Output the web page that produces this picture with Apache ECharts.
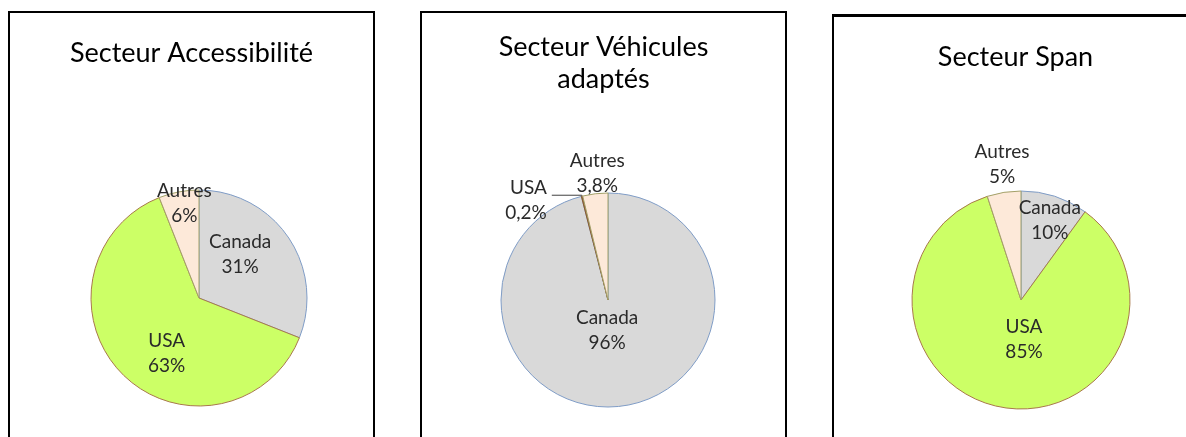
<!DOCTYPE html>
<html><head><meta charset="utf-8">
<script src="https://cdn.jsdelivr.net/npm/echarts@6/dist/echarts.min.js"></script>
<style>
html,body{margin:0;padding:0;background:#fff;width:1186px;height:437px;overflow:hidden}
.panel{position:absolute;box-sizing:border-box;width:367px;height:460px;border:2px solid #000;border-bottom:none;background:#fff}
.chart{position:absolute;left:0;top:0;width:363px;height:440px}
</style>
</head><body>
<div class="panel" style="left:8px;top:11px"><div class="chart" id="c1"></div></div>
<div class="panel" style="left:420px;top:11px"><div class="chart" id="c2"></div></div>
<div class="panel" style="left:832px;top:14px;border-top-width:3px"><div class="chart" id="c3"></div></div>
<script>
// ---- data ----
const categories = ['Canada', 'USA', 'Autres'];
const chartTitles = ['Secteur Accessibilité', 'Secteur Véhicules\nadaptés', 'Secteur Span'];
const accessibiliteValues = [31, 63, 6];
const vehiculesValues = [96, 0.2, 3.8];
const spanValues = [10, 85, 5];

// ---- styles ----
const FONT = 'Lato';
const fills = ['#d9d9d9', '#ccff66', '#fde9d9'];
const edges = ['#7f9cc6', '#a8784c', '#a2a068'];
const pieCenters = [[189, 285], [186, 287], [187, 283]];
const pieRadii = [108, 107, 109];
const titleTops = [24, 18, 24];
const labelShift = [
  [[-6, -12], [8, 15], [-4, -39]],
  [[-8, -26], [0, 5], [-4, -71]],
  [[11, -25], [12, -17], [-10, -79]]
];
const outsideItems = [[], [1], []];

function fmt(v) { return String(v).replace('.', ',') + '%'; }

function build(id, idx, values) {
  const chart = echarts.init(document.getElementById(id), null, {renderer: 'canvas'});
  const data = categories.map((name, i) => {
    const isOut = outsideItems[idx].indexOf(i) >= 0;
    const item = {
      name: name, value: values[i],
      itemStyle: {color: fills[i], borderColor: edges[i], borderWidth: 1}
    };
    if (isOut) {
      item.itemStyle.color = '#8a5a30';
      item.itemStyle.borderColor = '#8a5a30';
      item.label = {position: 'outside', align: 'right'};
      item.labelLine = {show: true, length: 1, length2: 30, lineStyle: {color: '#404040', width: 1}};
    }
    return item;
  });
  chart.setOption({
    animation: false,
    title: {
      text: chartTitles[idx], left: 'center', top: titleTops[idx], padding: 0,
      textStyle: {fontFamily: FONT, fontSize: 27, fontWeight: 'normal', color: '#000', lineHeight: 32}
    },
    series: [{
      type: 'pie',
      center: pieCenters[idx],
      radius: pieRadii[idx],
      startAngle: 90,
      clockwise: true,
      avoidLabelOverlap: false,
      silent: true,
      data: data,
      label: {
        show: true, position: 'inside',
        formatter: p => p.name + '\n' + fmt(p.value),
        fontFamily: FONT, fontSize: 19, lineHeight: 25, color: '#2a2a2a'
      },
      labelLine: {show: false},
      labelLayout: function (p) {
        const s = labelShift[idx][p.dataIndex];
        return {dx: s[0], dy: s[1]};
      }
    }]
  });
}
build('c1', 0, accessibiliteValues);
build('c2', 1, vehiculesValues);
build('c3', 2, spanValues);
</script>
</body></html>
